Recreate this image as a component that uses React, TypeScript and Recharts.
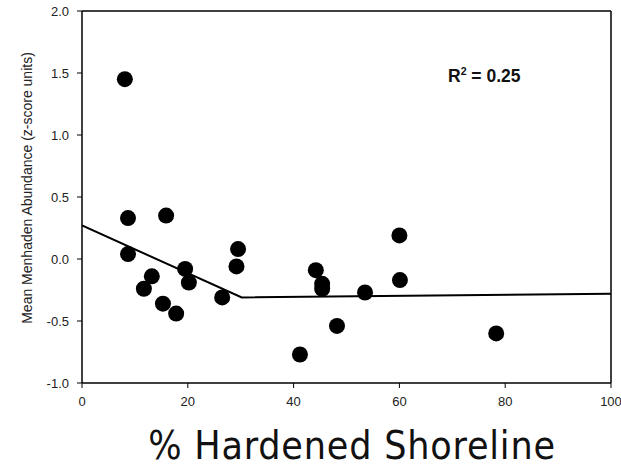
import { ScatterChart, Scatter, XAxis, YAxis, ReferenceLine } from "recharts";

// % hardened shoreline vs mean menhaden abundance (z-score)
const hardened = [8.1, 8.7, 8.7, 15.9, 11.7, 13.2, 15.3, 17.8, 19.5, 20.2, 26.5, 29.5, 29.2, 44.2, 45.4, 45.4, 41.2, 48.2, 53.5, 60.0, 60.1, 78.3];
const abundance = [1.45, 0.33, 0.04, 0.35, -0.24, -0.14, -0.36, -0.44, -0.08, -0.19, -0.31, 0.08, -0.06, -0.09, -0.2, -0.24, -0.77, -0.54, -0.27, 0.19, -0.17, -0.6];

// piecewise fit line
const fitX = [0, 30.2, 100];
const fitY = [0.27, -0.31, -0.28];

const xTicks = [0, 20, 40, 60, 80, 100];
const yTicks = [-1, -0.5, 0, 0.5, 1, 1.5, 2];

const points = hardened.map((x, i) => ({ x, y: abundance[i] }));
const fit = fitX.map((x, i) => ({ x, y: fitY[i] }));

const arial = "Liberation Sans, Arial, sans-serif";
const tickStyle = { fontSize: 13, fill: "#222", fontFamily: arial };

export default function App() {
  return (
    <div style={{ position: "absolute", left: 0, top: 0, width: 621, height: 469, background: "#fff" }}>
      <ScatterChart width={621} height={469} margin={{ top: 11, right: 10, bottom: 56, left: 42 }}>
        <XAxis
          type="number"
          dataKey="x"
          domain={[0, 100]}
          ticks={xTicks}
          tick={tickStyle}
          tickLine={{ stroke: "#000" }}
          axisLine={{ stroke: "#000", strokeWidth: 1.5 }}
          tickSize={5}
          tickMargin={9}
          height={30}
          allowDataOverflow
        />
        <YAxis
          type="number"
          dataKey="y"
          domain={[-1, 2]}
          ticks={yTicks}
          tick={tickStyle}
          tickFormatter={(v: number) => v.toFixed(1)}
          tickLine={{ stroke: "#000" }}
          axisLine={{ stroke: "#000", strokeWidth: 1.5 }}
          tickSize={5}
          tickMargin={8}
          width={40}
          allowDataOverflow
        />
        <ReferenceLine y={2} stroke="#000" strokeWidth={1.5} />
        <ReferenceLine x={100} stroke="#000" strokeWidth={1.5} />
        <Scatter data={points} fill="#000" isAnimationActive={false} shape={(p: any) => <circle cx={p.cx} cy={p.cy} r={8} fill="#000" />} />
        <Scatter
          data={fit}
          line={{ stroke: "#000", strokeWidth: 2 }}
          shape={() => <g />}
          isAnimationActive={false}
        />
      </ScatterChart>
      <svg width={621} height={469} style={{ position: "absolute", left: 0, top: 0, pointerEvents: "none" }}>
        <text
          transform="translate(27,188) rotate(-90)"
          textAnchor="middle"
          dominantBaseline="central"
          fontSize={14}
          fontFamily={arial}
          fill="#222"
        >
          Mean Menhaden Abundance (z-score units)
        </text>
        <text x={448} y={82} fontSize={17.5} fontWeight="bold" fontFamily={arial} fill="#111">
          R<tspan fontSize={10.5} dy={-7}>2</tspan>
          <tspan dy={7}> = 0.25</tspan>
        </text>
        <text
          x={352}
          y={459}
          textAnchor="middle"
          fontSize={39}
          letterSpacing={0.8}
          fontFamily="DejaVu Sans Condensed, DejaVu Sans, sans-serif"
          fill="#111"
        >
          % Hardened Shoreline
        </text>
      </svg>
    </div>
  );
}
